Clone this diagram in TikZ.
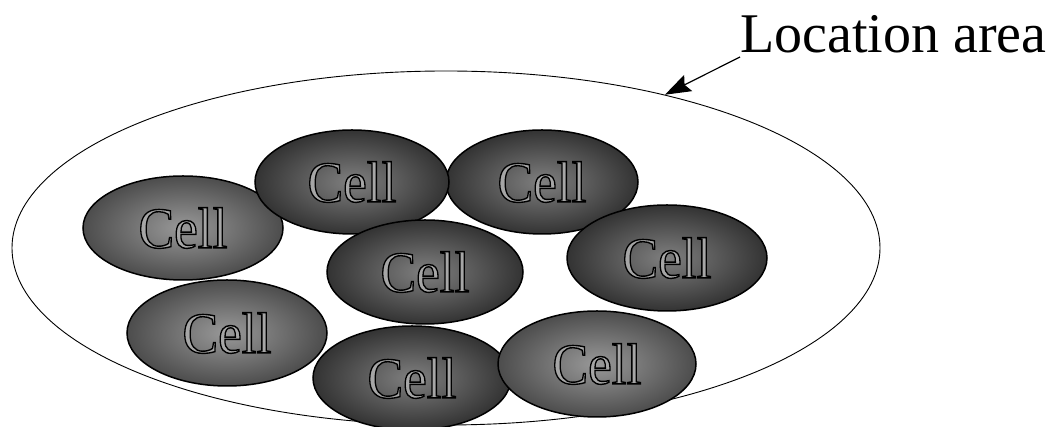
\documentclass[tikz,border=0pt]{standalone}
\usepackage{fontspec}
\setmainfont{Liberation Serif}
\usepackage{graphicx}
\usetikzlibrary{shapes.geometric,arrows.meta}
\newcommand\outlinedword[1]{{\special{pdf:literal 2 Tr 1.4 w 0 G}#1\special{pdf:literal 0 Tr}}}
\tikzset{
  cellbox/.style={ellipse, draw=black, line width=1.5pt, inner sep=0pt,
    minimum width=200pt, minimum height=104pt,
    font=\fontsize{58}{60}\selectfont, text=black!35},
  darkcell/.style={cellbox, inner color=black!50, outer color=black!80},
  lightcell/.style={cellbox, inner color=black!40, outer color=black!70},
  areabox/.style={ellipse, draw=black, line width=0.9pt, inner sep=0pt,
    minimum width=868pt, minimum height=354pt},
  labeltext/.style={font=\fontsize{56}{60}\selectfont, inner sep=0pt, anchor=base west}
}
\newcommand\celltext{\scalebox{0.92}[1]{\outlinedword{Cell}}}
\begin{document}
\begin{tikzpicture}[x=1pt,y=1pt]
\useasboundingbox (0,0) rectangle (1058,427);
\node[areabox] (area) at (446,179) {};
\node[lightcell] (c1) at (183,199) {\celltext};
\node[darkcell, minimum width=192pt] (c3) at (542,245) {\celltext};
\node[darkcell, minimum width=194pt] (c2) at (352,245) {\celltext};
\node[darkcell, minimum height=106pt] (c4) at (667,169) {\celltext};
\node[darkcell, minimum width=196pt] (c5) at (425,155) {\celltext};
\node[lightcell, minimum height=106pt] (c6) at (227,94) {\celltext};
\node[darkcell, minimum width=198pt] (c7) at (412,49) {\celltext};
\node[lightcell, minimum width=198pt, minimum height=106pt] (c8) at (597,63) {\celltext};
\node[labeltext] (lbl) at (740,374) {Location area};
\coordinate (lstart) at (740,370);
\draw[line width=1.2pt, -{Stealth[length=26pt,width=18pt,inset=4pt]}] (lstart) -- (area.35.6);
\end{tikzpicture}
\end{document}
